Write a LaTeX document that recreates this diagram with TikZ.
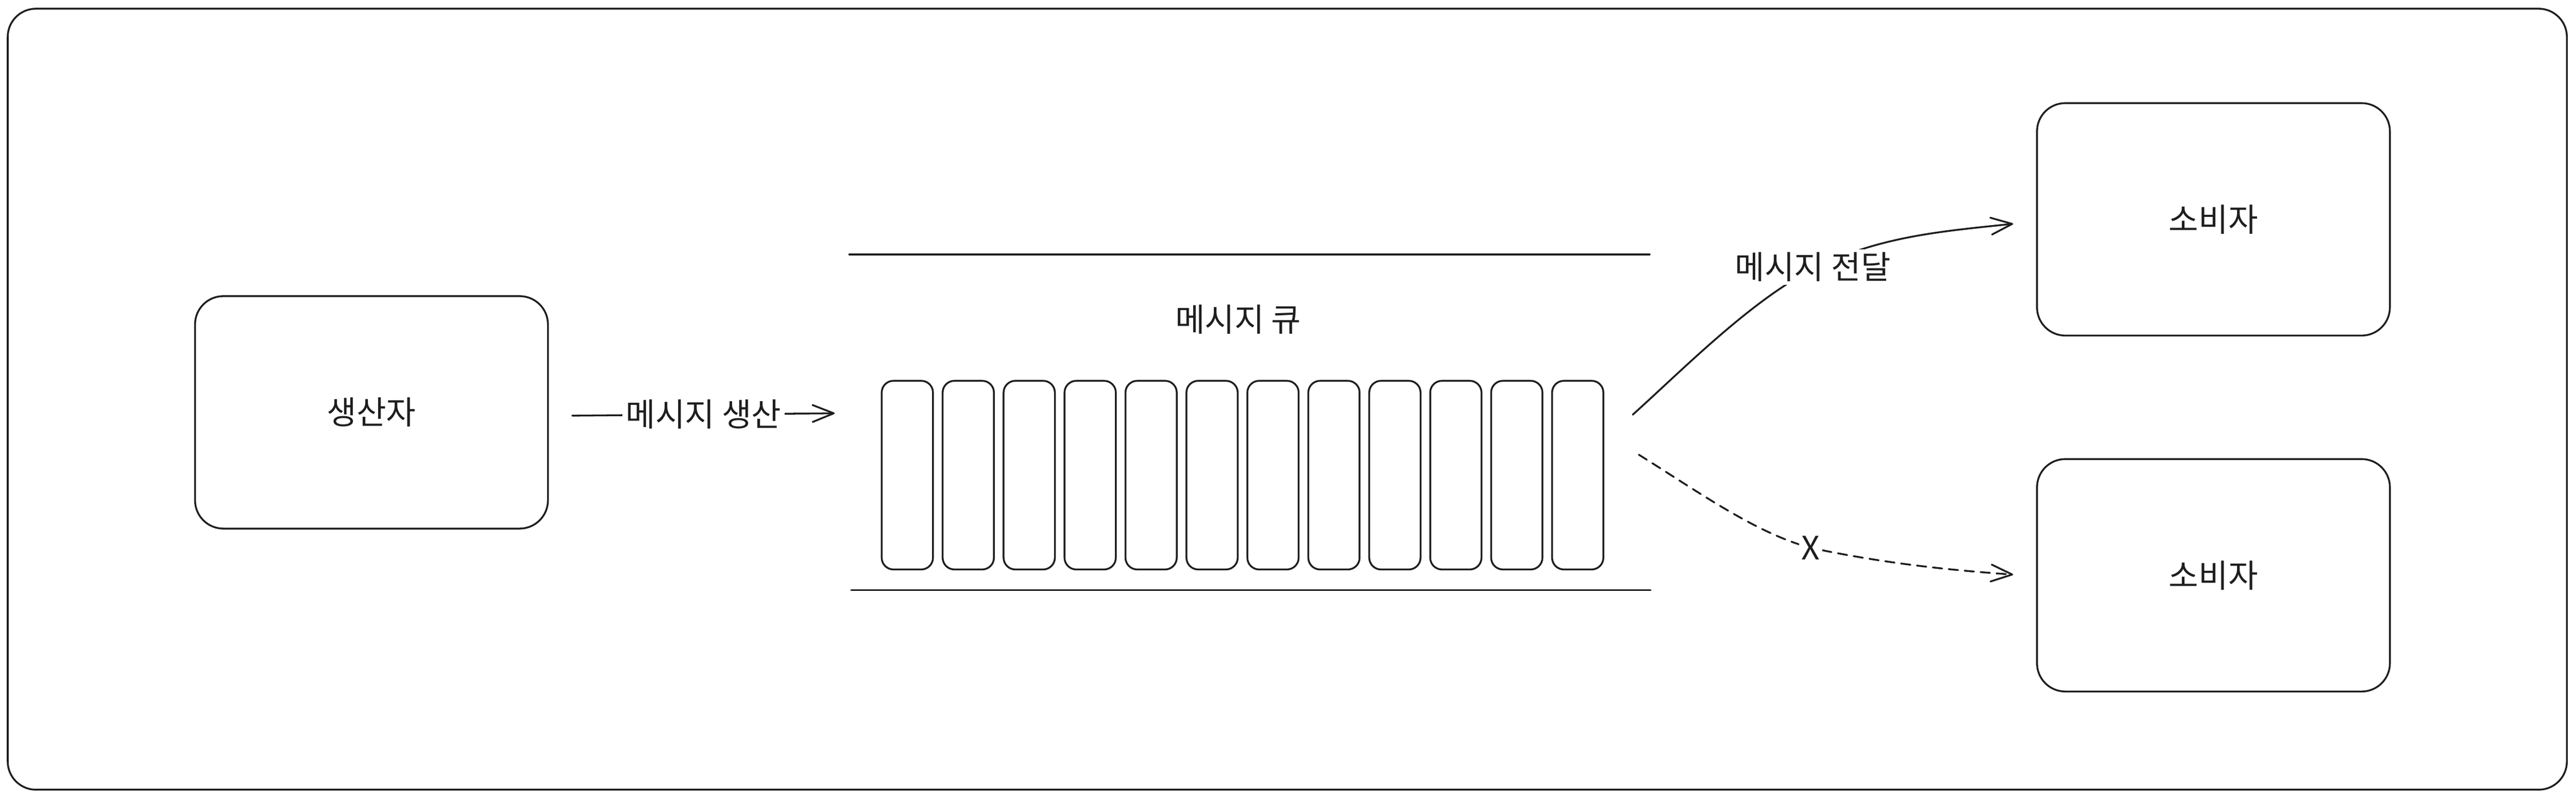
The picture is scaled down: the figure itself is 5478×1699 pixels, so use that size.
\documentclass[tikz,border=0pt]{standalone}
\usepackage{fontspec}
\setmainfont{Noto Sans CJK KR}
\usetikzlibrary{arrows.meta}
\definecolor{ink}{HTML}{1E1E1E}
\begin{document}
\begin{tikzpicture}[x=0.01cm,y=0.01cm,
  every node/.style={font=\fontsize{19.5pt}{23pt}\selectfont, text=ink},
  line/.style={draw=ink, line width=1.1pt, line cap=round, line join=round},
  box/.style={line, rounded corners=0.6cm, minimum width=7.5cm, minimum height=4.94cm, inner sep=0pt},
  cell/.style={line, rounded corners=0.25cm, minimum width=1.09cm, minimum height=4.01cm, inner sep=0pt},
  arr/.style={line, -{Straight Barb[round,length=0.45cm,width=0.36cm]}},
  dashline/.style={dash pattern=on 0.2cm off 0.14cm},
  lbl/.style={fill=white, inner sep=0.07cm}
]
\useasboundingbox (0,0) rectangle (5478,1699);

% outer frame
\node[line, rounded corners=0.6cm, minimum width=54.39cm, minimum height=16.6cm, inner sep=0pt] (frame) at (2737.5,850) {};

% producer and consumers
\node[box] (prod) at (790,822) {생산자};
\node[box] (cons1) at (4707,1232.5) {소비자};
\node[box] (cons2) at (4707,475.5) {소비자};

% queue
\coordinate (qtl) at (1806,1158);
\coordinate (qtr) at (3508,1158);
\coordinate (qbl) at (1810,444);
\coordinate (qbr) at (3510,444);
\draw[line] (qtl) -- (qtr);
\draw[line] (qbl) -- (qbr);
\node (qlabel) at (2633,1020) {메시지 큐};
\foreach \i in {0,...,11}{
  \node[cell] (c\i) at ({1929.5+\i*129.6},688.5) {};
}

% producer arrow
\coordinate (pa) at (1217,815);
\coordinate (pb) at (1775,820);
\draw[arr] (pa) -- (pb) node[midway, lbl] (plbl) {메시지 생산};

% delivery arrow
\coordinate (ds) at (3472,817);
\coordinate (dm) at (3870,1134);
\coordinate (de) at (4281,1223);
\draw[arr] (ds) .. controls +(42:1.5cm) and +(205:1.5cm) .. (dm)
                .. controls +(25:1.5cm) and +(186:1.5cm) .. (de);
\node[lbl] (dlbl) at (3855,1131) {메시지 전달};

% failed (dashed) arrow
\coordinate (fs) at (3485,732);
\coordinate (fx) at (3850,534);
\coordinate (fe) at (4281,477);
\draw[arr, dashline] (fs) .. controls +(-32:1.5cm) and +(165:1.2cm) .. (fx)
                .. controls +(-12:1.5cm) and +(176:1.5cm) .. (fe);
\node[lbl, inner sep=0.05cm] (xlbl) at (fx) {X};
\end{tikzpicture}
\end{document}
